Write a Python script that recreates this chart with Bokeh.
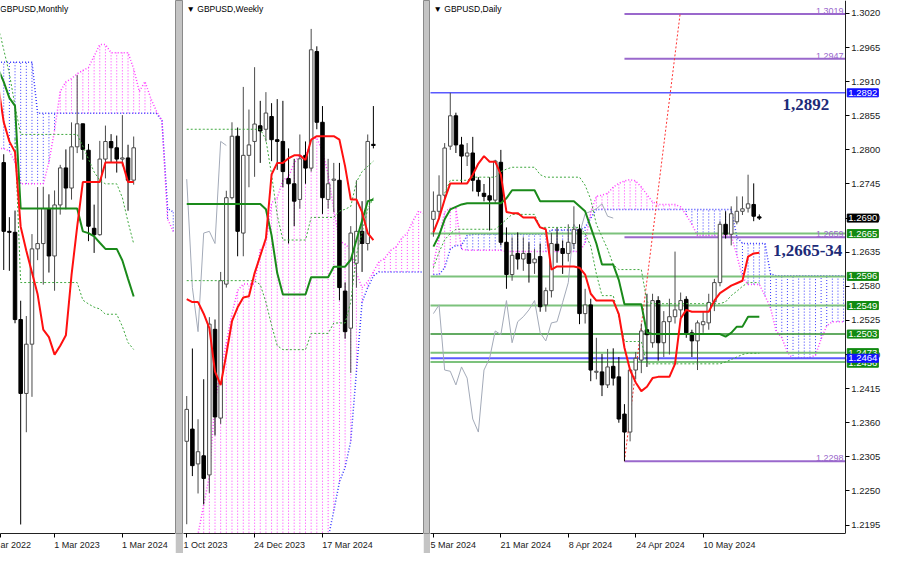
from bokeh.plotting import figure
from bokeh.layouts import row
from bokeh.models import (Range1d, FixedTicker, NumeralTickFormatter, Label, ColumnDataSource,
                          LinearAxis)
from bokeh.embed import file_html
from bokeh.resources import INLINE

FONT = "Liberation Sans"
BLUE_C = "#3a3aff"
PINK_C = "#ff3cff"
RED = "#ff1010"
GREEN = "#1a8a1a"
DOTG = "#3fa83f"
GRAY = "#a3aab8"
PURPLE = "#9a68cc"

# ---------------- MONTHLY (index 0 = Mar 2023) ----------------
m_x = [-9, -8, -7, -6, -5, -4, -3, -2, -1, 0, 1, 2, 3, 4, 5, 6, 7, 8, 9, 10, 11, 12, 13, 14]
m_open = [1.2598, 1.2171, 1.2165, 1.1623, 1.1164, 1.1470, 1.2062, 1.2095, 1.2313, 1.2018, 1.2335, 1.2565,
          1.2440, 1.2696, 1.2839, 1.2675, 1.2190, 1.2150, 1.2620, 1.2729, 1.2690, 1.2620, 1.2627, 1.2489]
m_high = [1.2650, 1.2259, 1.2300, 1.1740, 1.1645, 1.2154, 1.2446, 1.2448, 1.2401, 1.2425, 1.2584, 1.2680,
          1.2848, 1.3142, 1.2840, 1.2714, 1.2337, 1.2733, 1.2828, 1.2775, 1.2766, 1.2893, 1.2709, 1.2760]
m_low = [1.1931, 1.1926, 1.1600, 1.0350, 1.0923, 1.1143, 1.1992, 1.1840, 1.1915, 1.1802, 1.2275, 1.2308,
         1.2368, 1.2657, 1.2616, 1.2110, 1.2037, 1.2144, 1.2500, 1.2596, 1.2536, 1.2575, 1.2299, 1.2461]
m_close = [1.2171, 1.2165, 1.1623, 1.1164, 1.1470, 1.2062, 1.2095, 1.2313, 1.2018, 1.2335, 1.2565, 1.2440,
           1.2696, 1.2839, 1.2680, 1.2203, 1.2150, 1.2620, 1.2729, 1.2690, 1.2620, 1.2627, 1.2489, 1.2690]
m_line_x = [-10, -9, -8, -7, -6, -5, -4, -3, -2, -1, 0, 1, 2, 3, 4, 5, 6, 7, 8, 9, 10, 11, 12, 13, 14]
m_tenkan = [1.3080, 1.2850, 1.2730, 1.2663, 1.2200, 1.2050, 1.1915, 1.1780, 1.1560, 1.1514, 1.1405, 1.1460,
            1.1525, 1.1900, 1.2200, 1.2477, 1.2477, 1.2477, 1.2477, 1.2598, 1.2598, 1.2598, 1.2598, 1.2477, 1.2477]
m_kijun = [1.3180, 1.3100, 1.3000, 1.2950, 1.2313, 1.2313, 1.2313, 1.2313, 1.2313, 1.2313, 1.2313, 1.2313,
           1.2313, 1.2313, 1.2313, 1.2171, 1.2160, 1.2140, 1.2100, 1.2062, 1.2062, 1.2062, 1.1990, 1.1876, 1.1766]
m_dot_a = [1.3450, 1.3300, 1.3150, 1.2950, 1.2773, 1.2773, 1.2773, 1.2773, 1.2773, 1.2773, 1.2773, 1.2773,
           1.2773, 1.2773, 1.2773, 1.2700, 1.2620, 1.2540, 1.2488, 1.2466, 1.2466, 1.2466, 1.2380, 1.2230, 1.2094]
m_dot_b_x = [-7, -6, -5, -4, -3, -2, -1, 0, 1, 2, 3, 4, 5, 6, 7, 8, 9, 10, 11, 12, 13, 14]
m_dot_b = [1.2750, 1.1853, 1.1853, 1.1853, 1.1853, 1.1853, 1.1853, 1.1853, 1.1853, 1.1853, 1.1853,
           1.1853, 1.1744, 1.1720, 1.1700, 1.1689, 1.1656, 1.1656, 1.1656, 1.1580, 1.1480, 1.1437]
m_cloud_x = list(range(-10, 22))
m_span_a = [1.3222, 1.3222, 1.3222, 1.3222, 1.3222, 1.3222, 1.3222, 1.2904, 1.2904, 1.2904, 1.2904, 1.2904,
            1.2904, 1.2904, 1.2904, 1.2904, 1.2904, 1.2904, 1.2904, 1.2904, 1.2904, 1.2904, 1.2904, 1.2904,
            1.2904, 1.2904, 1.2904, 1.2904, 1.2904, 1.2860, 1.2313, 1.2291]
m_span_b = [1.2685, 1.2685, 1.2670, 1.2600, 1.2466, 1.2466, 1.2466, 1.2466, 1.2466, 1.2600, 1.2800, 1.3040,
            1.3100, 1.3120, 1.3150, 1.3170, 1.3189, 1.3260, 1.3331, 1.3331, 1.3281, 1.3281, 1.3281, 1.3281,
            1.3180, 1.3040, 1.3101, 1.3000, 1.2920, 1.2860, 1.2248, 1.2171]
m_ticks = [-9.5, 0, 12]
m_tick_labels = ["ar 2022", "1 Mar 2023", "1 Mar 2024"]

# ---------------- WEEKLY (index 0 = 1 Oct 2023) ----------------
w_x = list(range(0, 34))
w_open = [1.2180, 1.2201, 1.2141, 1.2155, 1.2122, 1.2373, 1.2220, 1.2451, 1.2600, 1.2706, 1.2539, 1.2673,
          1.2697, 1.2724, 1.2718, 1.2740, 1.2700, 1.2697, 1.2633, 1.2624, 1.2597, 1.2673, 1.2651, 1.2852,
          1.2730, 1.2597, 1.2630, 1.2630, 1.2439, 1.2375, 1.2487, 1.2542, 1.2521, 1.2692]
w_high = [1.2258, 1.2340, 1.2218, 1.2287, 1.2394, 1.2390, 1.2472, 1.2612, 1.2730, 1.2721, 1.2791, 1.2752,
          1.2825, 1.2767, 1.2782, 1.2763, 1.2770, 1.2767, 1.2685, 1.2667, 1.2709, 1.2697, 1.2891, 1.2861,
          1.2758, 1.2667, 1.2660, 1.2660, 1.2454, 1.2551, 1.2630, 1.2594, 1.2709, 1.2758]
w_low = [1.2037, 1.2120, 1.2090, 1.2071, 1.2091, 1.2190, 1.2210, 1.2445, 1.2597, 1.2499, 1.2499, 1.2618,
         1.2636, 1.2660, 1.2697, 1.2663, 1.2648, 1.2618, 1.2521, 1.2551, 1.2581, 1.2624, 1.2645, 1.2718,
         1.2572, 1.2581, 1.2575, 1.2423, 1.2357, 1.2298, 1.2445, 1.2472, 1.2509, 1.2685]
w_close = [1.2235, 1.2138, 1.2162, 1.2116, 1.2382, 1.2222, 1.2457, 1.2600, 1.2706, 1.2542, 1.2673, 1.2691,
           1.2727, 1.2715, 1.2746, 1.2700, 1.2697, 1.2645, 1.2624, 1.2594, 1.2667, 1.2651, 1.2855, 1.2730,
           1.2600, 1.2624, 1.2632, 1.2445, 1.2369, 1.2539, 1.2542, 1.2521, 1.2697, 1.2690]
w_tenkan = [1.2425, 1.2420, 1.2420, 1.2400, 1.2375, 1.2300, 1.2277, 1.2330, 1.2387, 1.2411, 1.2428, 1.2430,
            1.2470, 1.2500, 1.2530, 1.2640, 1.2660, 1.2660, 1.2668, 1.2673, 1.2673, 1.2665, 1.2700, 1.2706,
            1.2706, 1.2706, 1.2706, 1.2700, 1.2654, 1.2597, 1.2597, 1.2575, 1.2539, 1.2527]
w_kijun = [1.2589, 1.2589, 1.2589, 1.2589, 1.2589, 1.2589, 1.2589, 1.2589, 1.2589, 1.2589, 1.2589, 1.2589,
           1.2589, 1.2589, 1.2580, 1.2535, 1.2470, 1.2433, 1.2433, 1.2433, 1.2433, 1.2433, 1.2463, 1.2463,
           1.2463, 1.2463, 1.2481, 1.2481, 1.2481, 1.2493, 1.2527, 1.2560, 1.2594, 1.2597]
w_dot_a = [1.2718, 1.2718, 1.2718, 1.2718, 1.2718, 1.2718, 1.2718, 1.2718, 1.2718, 1.2718, 1.2718, 1.2718,
           1.2718, 1.2718, 1.2700, 1.2640, 1.2570, 1.2527, 1.2527, 1.2527, 1.2527, 1.2527, 1.2566, 1.2566,
           1.2566, 1.2566, 1.2566, 1.2577, 1.2580, 1.2585, 1.2627, 1.2645, 1.2654, 1.2663]
w_dot_b = [1.2457, 1.2457, 1.2457, 1.2457, 1.2457, 1.2457, 1.2457, 1.2457, 1.2457, 1.2457, 1.2457, 1.2457,
           1.2457, 1.2450, 1.2420, 1.2380, 1.2345, 1.2338, 1.2338, 1.2338, 1.2338, 1.2338, 1.2366, 1.2366,
           1.2366, 1.2366, 1.2384, 1.2384, 1.2384, 1.2420, 1.2502, 1.2540, 1.2580, 1.2600]
w_cloud_x = list(range(0, 43))
w_span_pink = [1.1900, 1.1950, 1.2020, 1.2070, 1.2120, 1.2250, 1.2300, 1.2350, 1.2400, 1.2440, 1.2451,
               1.2451, 1.2451, 1.2510, 1.2520, 1.2591, 1.2600, 1.2630, 1.2636, 1.2660, 1.2673, 1.2670,
               1.2700, 1.2703, 1.2680, 1.2640, 1.2580, 1.2525, 1.2520, 1.2510, 1.2470, 1.2445, 1.2455,
               1.2472, 1.2490, 1.2495, 1.2509, 1.2515, 1.2530, 1.2539, 1.2560, 1.2577, 1.2572]
w_span_blue = [1.1950, 1.1950, 1.1950, 1.1950, 1.1950, 1.1950, 1.1950, 1.1950, 1.1950, 1.1950, 1.1950,
               1.1950, 1.1950, 1.1950, 1.1950, 1.1950, 1.1950, 1.1950, 1.1950, 1.1950, 1.1950, 1.1950,
               1.1950, 1.1950, 1.1950, 1.2013, 1.2060, 1.2110, 1.2135, 1.2180, 1.2300, 1.2420, 1.2445,
               1.2465, 1.2472, 1.2472, 1.2472, 1.2472, 1.2472, 1.2472, 1.2472, 1.2472, 1.2472]
w_ticks = [0, 12, 24]
w_tick_labels = ["1 Oct 2023", "24 Dec 2023", "17 Mar 2024"]

# ---------------- DAILY (index 0 = 5 Mar 2024) ----------------
d_x = list(range(0, 59))
d_open = [1.2688, 1.2701, 1.2727, 1.2806, 1.2855, 1.2808, 1.2790, 1.2795, 1.2751, 1.2730, 1.2726, 1.2719,
          1.2780, 1.2651, 1.2599, 1.2633, 1.2624, 1.2633, 1.2618, 1.2628, 1.2550, 1.2573, 1.2648, 1.2641,
          1.2633, 1.2649, 1.2672, 1.2536, 1.2550, 1.2442, 1.2442, 1.2421, 1.2451, 1.2434, 1.2374, 1.2345,
          1.2445, 1.2461, 1.2510, 1.2489, 1.2557, 1.2489, 1.2523, 1.2531, 1.2542, 1.2559, 1.2505, 1.2492,
          1.2518, 1.2521, 1.2555, 1.2586, 1.2680, 1.2664, 1.2684, 1.2701, 1.2706, 1.2712, 1.2692]
d_high = [1.2733, 1.2759, 1.2811, 1.2892, 1.2860, 1.2821, 1.2811, 1.2821, 1.2756, 1.2745, 1.2756, 1.2784,
          1.2800, 1.2675, 1.2659, 1.2667, 1.2659, 1.2651, 1.2640, 1.2649, 1.2578, 1.2666, 1.2675, 1.2654,
          1.2680, 1.2709, 1.2680, 1.2576, 1.2560, 1.2497, 1.2471, 1.2479, 1.2480, 1.2466, 1.2390, 1.2446,
          1.2474, 1.2520, 1.2568, 1.2568, 1.2564, 1.2540, 1.2560, 1.2636, 1.2570, 1.2564, 1.2510, 1.2525,
          1.2540, 1.2568, 1.2592, 1.2685, 1.2701, 1.2709, 1.2725, 1.2725, 1.2760, 1.2746, 1.2696]
d_low = [1.2660, 1.2688, 1.2722, 1.2800, 1.2795, 1.2745, 1.2774, 1.2733, 1.2725, 1.2717, 1.2670, 1.2714,
         1.2646, 1.2576, 1.2589, 1.2607, 1.2605, 1.2586, 1.2600, 1.2539, 1.2539, 1.2562, 1.2618, 1.2600,
         1.2620, 1.2640, 1.2519, 1.2520, 1.2427, 1.2430, 1.2403, 1.2416, 1.2420, 1.2360, 1.2298, 1.2330,
         1.2430, 1.2440, 1.2450, 1.2481, 1.2460, 1.2466, 1.2470, 1.2520, 1.2530, 1.2497, 1.2466, 1.2445,
         1.2505, 1.2510, 1.2540, 1.2580, 1.2657, 1.2646, 1.2680, 1.2695, 1.2699, 1.2685, 1.2687]
d_close = [1.2701, 1.2727, 1.2803, 1.2855, 1.2808, 1.2790, 1.2795, 1.2751, 1.2733, 1.2725, 1.2719, 1.2782,
           1.2651, 1.2599, 1.2630, 1.2624, 1.2633, 1.2617, 1.2624, 1.2547, 1.2573, 1.2649, 1.2638, 1.2633,
           1.2651, 1.2672, 1.2536, 1.2550, 1.2445, 1.2443, 1.2421, 1.2450, 1.2432, 1.2366, 1.2345, 1.2445,
           1.2464, 1.2508, 1.2502, 1.2557, 1.2489, 1.2523, 1.2531, 1.2542, 1.2557, 1.2505, 1.2492, 1.2521,
           1.2523, 1.2554, 1.2586, 1.2680, 1.2664, 1.2697, 1.2701, 1.2705, 1.2713, 1.2693, 1.2690]
d_tenkan = [1.2667, 1.2690, 1.2720, 1.2746, 1.2746, 1.2746, 1.2746, 1.2760, 1.2778, 1.2790, 1.2781, 1.2781,
            1.2760, 1.2700, 1.2698, 1.2698, 1.2691, 1.2691, 1.2691, 1.2675, 1.2672, 1.2607, 1.2612, 1.2612,
            1.2612, 1.2612, 1.2610, 1.2599, 1.2568, 1.2557, 1.2557, 1.2557, 1.2557, 1.2535, 1.2481, 1.2445,
            1.2425, 1.2411, 1.2418, 1.2432, 1.2434, 1.2434, 1.2434, 1.2455, 1.2528, 1.2542, 1.2539, 1.2539,
            1.2539, 1.2539, 1.2557, 1.2569, 1.2575, 1.2581, 1.2585, 1.2589, 1.2628, 1.2633, 1.2634]
d_kijun = [1.2644, 1.2662, 1.2688, 1.2704, 1.2708, 1.2712, 1.2714, 1.2714, 1.2714, 1.2714, 1.2714, 1.2714,
           1.2714, 1.2722, 1.2735, 1.2735, 1.2735, 1.2735, 1.2735, 1.2717, 1.2717, 1.2717, 1.2717, 1.2717,
           1.2717, 1.2717, 1.2709, 1.2701, 1.2675, 1.2649, 1.2615, 1.2615, 1.2615, 1.2590, 1.2551, 1.2551,
           1.2551, 1.2551, 1.2505, 1.2503, 1.2503, 1.2503, 1.2503, 1.2503, 1.2503, 1.2503, 1.2503, 1.2503,
           1.2503, 1.2503, 1.2503, 1.2503, 1.2499, 1.2505, 1.2515, 1.2515, 1.2531, 1.2531, 1.2531]
d_dot_a_x = list(range(2, 59))
d_dot_a = [1.2730, 1.2751, 1.2751, 1.2751, 1.2751, 1.2756, 1.2756, 1.2756, 1.2756, 1.2756, 1.2765, 1.2769,
           1.2772, 1.2772, 1.2772, 1.2772, 1.2772, 1.2760, 1.2756, 1.2756, 1.2756, 1.2756, 1.2756, 1.2756,
           1.2756, 1.2743, 1.2720, 1.2680, 1.2660, 1.2640, 1.2615, 1.2607, 1.2607, 1.2607, 1.2607, 1.2607,
           1.2555, 1.2552, 1.2552, 1.2552, 1.2552, 1.2552, 1.2552, 1.2552, 1.2552, 1.2552, 1.2552, 1.2552,
           1.2552, 1.2552, 1.2555, 1.2565, 1.2572, 1.2580, 1.2586, 1.2586, 1.2586]
d_dot_b = [1.2610, 1.2635, 1.2655, 1.2665, 1.2672, 1.2672, 1.2672, 1.2672, 1.2672, 1.2672, 1.2672, 1.2672,
           1.2680, 1.2688, 1.2696, 1.2696, 1.2696, 1.2696, 1.2696, 1.2675, 1.2675, 1.2675, 1.2675, 1.2675,
           1.2675, 1.2675, 1.2675, 1.2665, 1.2645, 1.2600, 1.2565, 1.2565, 1.2565, 1.2530, 1.2491, 1.2491,
           1.2491, 1.2491, 1.2455, 1.2455, 1.2455, 1.2455, 1.2455, 1.2455, 1.2455, 1.2455, 1.2455, 1.2455,
           1.2455, 1.2455, 1.2455, 1.2455, 1.2458, 1.2462, 1.2466, 1.2470, 1.2472, 1.2472, 1.2472]
d_cloud_x = list(range(0, 74))
d_span_blue = [1.2599, 1.2599, 1.2610, 1.2640, 1.2646, 1.2646, 1.2662, 1.2664, 1.2664, 1.2664, 1.2664,
               1.2664, 1.2664, 1.2664, 1.2664, 1.2664, 1.2664, 1.2664, 1.2664, 1.2664, 1.2664, 1.2671,
               1.2671, 1.2671, 1.2671, 1.2671, 1.2671, 1.2675, 1.2690, 1.2704, 1.2704, 1.2704, 1.2704,
               1.2704, 1.2704, 1.2704, 1.2704, 1.2704, 1.2704, 1.2704, 1.2704, 1.2704, 1.2704, 1.2704,
               1.2704, 1.2704, 1.2704, 1.2704, 1.2704, 1.2704, 1.2704, 1.2704, 1.2704, 1.2704, 1.2660,
               1.2649, 1.2649, 1.2649, 1.2649, 1.2649, 1.2600, 1.2597, 1.2597, 1.2597, 1.2597, 1.2597,
               1.2597, 1.2597, 1.2597, 1.2597, 1.2597, 1.2597, 1.2597, 1.2597]
d_span_pink = [1.2615, 1.2660, 1.2700, 1.2706, 1.2706, 1.2640, 1.2638, 1.2638, 1.2638, 1.2638, 1.2638,
               1.2638, 1.2638, 1.2636, 1.2636, 1.2636, 1.2636, 1.2636, 1.2636, 1.2636, 1.2636, 1.2636,
               1.2636, 1.2636, 1.2636, 1.2636, 1.2636, 1.2650, 1.2700, 1.2725, 1.2727, 1.2730, 1.2740,
               1.2746, 1.2750, 1.2752, 1.2750, 1.2740, 1.2728, 1.2716, 1.2712, 1.2712, 1.2712, 1.2712,
               1.2708, 1.2695, 1.2680, 1.2662, 1.2662, 1.2662, 1.2662, 1.2662, 1.2662, 1.2662, 1.2630,
               1.2595, 1.2583, 1.2583, 1.2583, 1.2565, 1.2545, 1.2508, 1.2497, 1.2474, 1.2463, 1.2465,
               1.2465, 1.2465, 1.2469, 1.2495, 1.2516, 1.2523, 1.2523, 1.2523]
d_ticks = [0, 12, 24, 36, 48]
d_tick_labels = ["5 Mar 2024", "21 Mar 2024", "8 Apr 2024", "24 Apr 2024", "10 May 2024"]
d_price_ticks = [1.2195, 1.2250, 1.2305, 1.2360, 1.2415, 1.2470, 1.2525, 1.2580, 1.2635, 1.2690,
                 1.2745, 1.2800, 1.2855, 1.2910, 1.2965, 1.3020]
# horizontal levels
lvl_blue_top = 1.2892
lvl_green_light = [1.2665, 1.2596, 1.2549, 1.2473, 1.2458]
lvl_green_dark = [1.2503]
lvl_blue_low = 1.2464
purple_levels = [1.3019, 1.2947, 1.2659, 1.2298]
purple_start = 34
fib_x = [34, 43.9]
fib_y = [1.2298, 1.3019]
box_levels = [(1.2892, "#1010ff"), (1.2690, "#000000"), (1.2665, "#118a11"), (1.2596, "#118a11"),
              (1.2549, "#118a11"), (1.2503, "#118a11"), (1.2456, "#118a11"), (1.2473, "#118a11"),
              (1.2464, "#1010ff")]

H = 553
AXIS_X = 73.3  # price-axis position (bar units) in the daily panel

# approximate Liberation Sans glyph widths (em) used only to left-align date labels at their ticks
CW = {" ": 0.278, "1": 0.556, "2": 0.556, "3": 0.556, "4": 0.556, "5": 0.556, "7": 0.556, "8": 0.556,
      "0": 0.556, "M": 0.833, "a": 0.556, "r": 0.333, "A": 0.667, "p": 0.556, "y": 0.5, "O": 0.778,
      "c": 0.5, "t": 0.278, "D": 0.722, "e": 0.556}


def left_aligned(txt):
    w = sum(CW.get(ch, 0.556) for ch in txt)
    return "\u00a0" * int(round(w / 0.278)) + txt


def base_fig(w, xr, yr):
    p = figure(width=w, height=H, x_range=Range1d(*xr), y_range=Range1d(*yr),
               output_backend="svg", toolbar_location=None, y_axis_location=None,
               min_border_left=0, min_border_top=0, min_border_bottom=20, min_border_right=0)
    p.xgrid.visible = False
    p.ygrid.visible = False
    p.outline_line_color = None
    p.background_fill_color = "white"
    p.border_fill_color = "white"
    for ax in p.xaxis:
        ax.axis_line_color = "#222222"
        ax.major_tick_out = 4
        ax.major_tick_in = 0
        ax.minor_tick_line_color = None
        ax.major_label_text_font = FONT
        ax.major_label_text_font_size = "9px"
        ax.major_label_text_color = "#222222"
        ax.major_label_standoff = 2
    return p


def draw_candles(p, x, o, h, l, c, px_unit, width=0.62):
    top = [max(a, b) for a, b in zip(o, c)]
    bot = [min(a, b) for a, b in zip(o, c)]
    bot = [b if (t - b) * px_unit >= 1 else t - 1.0 / px_unit for t, b in zip(top, bot)]
    fill = ["white" if cc >= oo else "black" for oo, cc in zip(o, c)]
    line = ["#4a4a4a" if cc >= oo else "black" for oo, cc in zip(o, c)]
    src = ColumnDataSource(dict(x=x, h=h, l=l, top=top, bot=bot, fill=fill, line=line))
    p.segment(x0="x", y0="h", x1="x", y1="l", source=src, line_color="line", line_width=1)
    p.vbar(x="x", top="top", bottom="bot", width=width, source=src,
           fill_color="fill", line_color="line", line_width=1)


def draw_cloud(p, x, a, b, col_a, col_b):
    lo = [min(u, v) for u, v in zip(a, b)]
    hi = [max(u, v) for u, v in zip(a, b)]
    col = [col_a if u >= v else col_b for u, v in zip(a, b)]
    src = ColumnDataSource(dict(x=x, lo=lo, hi=hi, col=col))
    p.segment(x0="x", y0="lo", x1="x", y1="hi", source=src, line_color="col",
              line_dash="1 2", line_width=1)
    p.line(x, a, line_color=col_a, line_dash="1 2", line_width=1.5)
    p.line(x, b, line_color=col_b, line_dash="1 2", line_width=1.5)


def set_xticks(p, ticks, labels):
    p.xaxis.ticker = FixedTicker(ticks=ticks)
    over = {}
    for k, (t, s) in enumerate(zip(ticks, labels)):
        over[t] = s if k == 0 else left_aligned(s)
    p.xaxis.major_label_overrides = over


def title(p, x0, y1, text):
    p.add_layout(Label(x=x0, y=y1, x_offset=3, y_offset=-3, text=text, text_baseline="top",
                       text_font=FONT, text_font_size="8.5px", text_color="black"))


# ---------- Monthly figure ----------
m_xr = (-9.57, 21.4)
m_yr = (1.0294, 1.3605)
pm = base_fig(175, m_xr, m_yr)
set_xticks(pm, m_ticks, m_tick_labels)
draw_cloud(pm, m_cloud_x, m_span_a, m_span_b, BLUE_C, PINK_C)
draw_candles(pm, m_x, m_open, m_high, m_low, m_close, 1600)
pm.line(m_line_x, m_dot_a, line_color=DOTG, line_dash="2 2", line_width=1)
pm.line(m_dot_b_x, m_dot_b, line_color=DOTG, line_dash="2 2", line_width=1)
pm.line(m_line_x, m_kijun, line_color=GREEN, line_width=2)
pm.line(m_line_x, m_tenkan, line_color=RED, line_width=2)
title(pm, m_xr[0] - 0.6, m_yr[1], "GBPUSD,Monthly")

# ---------- Weekly figure ----------
w_xr = (-0.57, 41.86)
w_yr = (1.2021, 1.2940)
pw = base_fig(240, w_xr, w_yr)
set_xticks(pw, w_ticks, w_tick_labels)
draw_cloud(pw, w_cloud_x, w_span_blue, w_span_pink, BLUE_C, PINK_C)
pw.line(w_x[:8], w_close[26:34], line_color=GRAY, line_width=1)
draw_candles(pw, w_x, w_open, w_high, w_low, w_close, 5800)
pw.line(w_x, w_dot_a, line_color=DOTG, line_dash="2 2", line_width=1)
pw.line(w_x, w_dot_b, line_color=DOTG, line_dash="2 2", line_width=1)
pw.line(w_x, w_kijun, line_color=GREEN, line_width=2)
pw.line(w_x, w_tenkan, line_color=RED, line_width=2)
title(pw, w_xr[0], w_yr[1], "\u25bc GBPUSD,Weekly")

# ---------- Daily figure ----------
d_xr = (-0.52, 80.28)
d_yr = (1.21814, 1.30409)
pd_ = base_fig(454, d_xr, d_yr)
set_xticks(pd_, d_ticks, d_tick_labels)
pd_.xaxis.bounds = (d_xr[0], AXIS_X)
ya = LinearAxis(fixed_location=AXIS_X, ticker=FixedTicker(ticks=d_price_ticks),
                formatter=NumeralTickFormatter(format="0.0000"))
ya.axis_line_color = "#222222"
ya.major_tick_out = 4
ya.major_tick_in = 0
ya.minor_tick_line_color = None
ya.major_label_text_font = FONT
ya.major_label_text_font_size = "9.5px"
ya.major_label_text_color = "#222222"
ya.major_label_standoff = 2
pd_.add_layout(ya, "right")

draw_cloud(pd_, d_cloud_x, d_span_blue, d_span_pink, BLUE_C, PINK_C)


def hlines(levels, color, width):
    n = len(levels)
    pd_.segment(x0=[d_xr[0] - 1] * n, y0=levels, x1=[AXIS_X] * n, y1=levels,
                line_color=color, line_width=width)


hlines(lvl_green_light, "#7cc27c", 2)
hlines(lvl_green_dark, "#2f8f2f", 1.5)
hlines([lvl_blue_low], "#5a5aff", 2)
hlines([lvl_blue_top], "#5a5aff", 1.5)
pd_.segment(x0=[purple_start] * len(purple_levels), y0=purple_levels,
            x1=[AXIS_X] * len(purple_levels), y1=purple_levels, line_color=PURPLE, line_width=2)
pd_.line(fib_x, fib_y, line_color="#ff3030", line_dash="2 2", line_width=1)
pd_.line(d_x[:33], d_close[26:59], line_color=GRAY, line_width=1)
draw_candles(pd_, d_x, d_open, d_high, d_low, d_close, 6200)
pd_.line(d_dot_a_x, d_dot_a, line_color=DOTG, line_dash="2 2", line_width=1)
pd_.line(d_x, d_dot_b, line_color=DOTG, line_dash="2 2", line_width=1)
pd_.line(d_x, d_kijun, line_color=GREEN, line_width=2)
pd_.line(d_x, d_tenkan, line_color=RED, line_width=2)
title(pd_, d_xr[0], d_yr[1], "\u25bc GBPUSD,Daily")

for lv in purple_levels:
    pd_.add_layout(Label(x=AXIS_X - 0.3, y=lv, text=f"{lv:.4f}", text_align="right",
                         text_baseline="bottom", text_font=FONT, text_font_size="9px",
                         text_color=PURPLE))
pd_.add_layout(Label(x=66.3, y=1.2873, text="1,2892", text_align="center", text_baseline="middle",
                     text_font="Liberation Serif", text_font_style="bold", text_font_size="17px",
                     text_color="#1d2b78"))
pd_.add_layout(Label(x=66.6, y=1.2638, text="1,2665-34", text_align="center", text_baseline="middle",
                     text_font="Liberation Serif", text_font_style="bold", text_font_size="17px",
                     text_color="#1d2b78"))
for lv, colr in box_levels:
    pd_.add_layout(Label(x=AXIS_X, y=lv, x_offset=2, text=f"{lv:.4f}", text_align="left",
                         text_baseline="middle", text_font=FONT, text_font_size="9.5px",
                         text_color="white", background_fill_color=colr, border_line_color=colr,
                         padding=1))


def sep(w):
    s = figure(width=w, height=H, output_backend="svg", toolbar_location=None,
               x_axis_location=None, y_axis_location=None, min_border=0)
    s.background_fill_color = "#c4c4c4"
    s.border_fill_color = "#c4c4c4"
    s.outline_line_color = "#8a8a8a"
    s.xgrid.visible = False
    s.ygrid.visible = False
    return s


layout = row(pm, sep(8), pw, sep(7), pd_, spacing=0)
open("out.html", "w").write(file_html(layout, INLINE))
